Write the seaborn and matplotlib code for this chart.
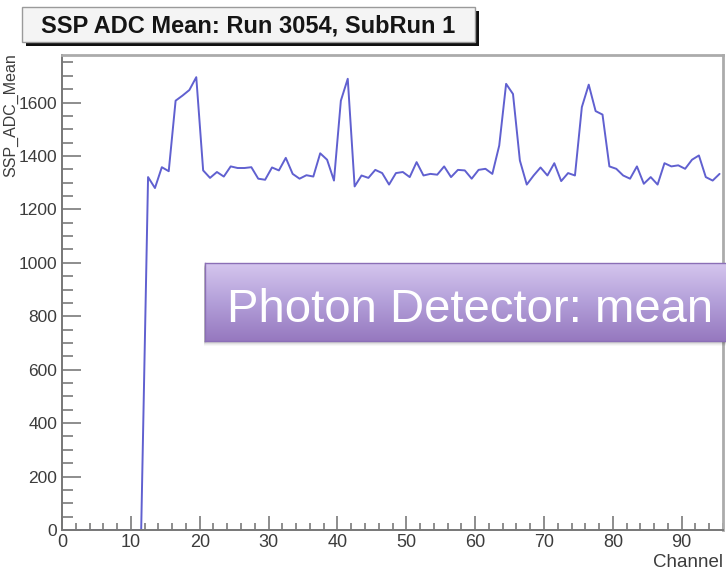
import numpy as np
import pandas as pd
import matplotlib
matplotlib.use("Agg")
import matplotlib.pyplot as plt
from matplotlib.patches import Rectangle
from matplotlib.colors import LinearSegmentedColormap
from matplotlib.ticker import MultipleLocator
import seaborn as sns

# Mean SSP ADC value per channel (channels 0-11 are not instrumented)
channels = np.arange(96)
adc_mean = (
    [0] * 12
    + [1321, 1280, 1358, 1343, 1607, 1626, 1647, 1695]                    # 12-19
    + [1346, 1318, 1340, 1323, 1361, 1355, 1355, 1358, 1315, 1311]        # 20-29
    + [1357, 1346, 1393, 1333, 1315, 1328, 1323, 1410, 1386, 1308]        # 30-39
    + [1607, 1689, 1286, 1327, 1318, 1348, 1336, 1293, 1336, 1340]        # 40-49
    + [1321, 1377, 1327, 1333, 1330, 1361, 1321, 1348, 1346, 1315]        # 50-59
    + [1348, 1352, 1333, 1439, 1670, 1632, 1383, 1293, 1327, 1357]        # 60-69
    + [1327, 1373, 1306, 1336, 1327, 1583, 1667, 1568, 1555, 1361]        # 70-79
    + [1352, 1327, 1315, 1361, 1296, 1321, 1293, 1373, 1361, 1365]        # 80-89
    + [1352, 1386, 1402, 1321, 1308, 1333]                                # 90-95
)

title_text = "SSP ADC Mean: Run 3054, SubRun 1"
x_title = "Channel"
y_title = "SSP_ADC_Mean"
banner_text = "Photon Detector: mean"

sns.set_style("white")
plt.rcParams["font.family"] = ["Liberation Sans", "DejaVu Sans"]

W, H = 726, 574
fig = plt.figure(figsize=(W / 100, H / 100), dpi=100)
fig.patch.set_facecolor("white")


def fx(px):
    return px / W


def fy(py):
    return 1 - py / H


ax = fig.add_axes([fx(62), fy(530), fx(723 - 62), (530 - 55) / H])
ax.set_zorder(0)
ax.set_facecolor("white")

df = pd.DataFrame({"channel": channels + 0.5, "mean": adc_mean})
sns.lineplot(data=df, x="channel", y="mean", ax=ax, color="#6060d0",
             linewidth=1.4, zorder=2)

ax.set_xlim(0, 96)
ax.set_ylim(0, 1778)
ax.xaxis.set_major_locator(MultipleLocator(10))
ax.xaxis.set_minor_locator(MultipleLocator(2))
ax.yaxis.set_major_locator(MultipleLocator(200))
ax.yaxis.set_minor_locator(MultipleLocator(50))

tick_col = "#7a7a7a"
ax.tick_params(which="both", bottom=True, left=True, top=False, right=False)
ax.tick_params(axis="x", which="major", direction="in", length=10, width=1.2,
               color=tick_col, labelsize=13, labelcolor="#3c3c3c", pad=3)
ax.tick_params(axis="x", which="minor", direction="in", length=5, width=1.2,
               color=tick_col)
ax.tick_params(axis="y", which="major", direction="in", length=14, width=1.2,
               color=tick_col, labelsize=12.5, labelcolor="#3c3c3c", pad=3.5)
ax.tick_params(axis="y", which="minor", direction="in", length=8, width=1.2,
               color=tick_col)

for side in ("left", "bottom"):
    ax.spines[side].set_color("#777777")
    ax.spines[side].set_linewidth(1.4)
for side in ("top", "right"):
    ax.spines[side].set_color("#ababab")
    ax.spines[side].set_linewidth(2.0)

ax.set_xlabel(x_title, loc="right", fontsize=13.5, color="#3c3c3c")
ax.xaxis.set_label_coords(1.0, (530 - 554) / 475)
ax.set_ylabel(y_title, loc="top", fontsize=11.5, color="#3c3c3c")
ax.yaxis.set_label_coords((18.3 - 62) / 661, (530 - 53) / 475)

# Title box with a hard black drop shadow
tb_l, tb_t, tb_r, tb_b = 22, 7, 475, 42
fig.patches.append(Rectangle((fx(tb_l + 4), fy(tb_b + 4)), fx(tb_r - tb_l),
                             (tb_b - tb_t) / H, transform=fig.transFigure,
                             facecolor="#111111", edgecolor="none", zorder=3))
fig.patches.append(Rectangle((fx(tb_l), fy(tb_b)), fx(tb_r - tb_l),
                             (tb_b - tb_t) / H, transform=fig.transFigure,
                             facecolor="#f4f4f4", edgecolor="#9a9a9a",
                             linewidth=1.0, zorder=4))
fig.text(fx((tb_l + tb_r) / 2), fy((tb_t + tb_b) / 2 + 1), title_text,
         ha="center", va="center", fontsize=17, fontweight="bold",
         color="#151515", zorder=5)

# Purple banner with soft shadow and vertical gradient
bn_l, bn_t, bn_b = 205, 263, 341
for i, a in enumerate([0.10, 0.08, 0.06, 0.04, 0.03]):
    off = i + 1
    fig.patches.append(Rectangle((fx(bn_l - 1), fy(bn_b + off)), fx(W + 10 - bn_l),
                                 (bn_b - bn_t) / H, transform=fig.transFigure,
                                 facecolor="black", alpha=a, edgecolor="none",
                                 zorder=1))
gax = fig.add_axes([fx(bn_l), fy(bn_b), fx(W + 10 - bn_l), (bn_b - bn_t) / H])
gax.set_zorder(2)
cmap = LinearSegmentedColormap.from_list("banner", ["#d5c6ee", "#b39fd9", "#9678bf"])
gax.imshow(np.linspace(0, 1, 256).reshape(-1, 1), aspect="auto", cmap=cmap,
           extent=[0, 1, 0, 1], origin="upper")
gax.set_xticks([])
gax.set_yticks([])
for sp in gax.spines.values():
    sp.set_color("#8b6fb6")
    sp.set_linewidth(1.0)
gax.text(fx(227 - bn_l) / fx(W + 10 - bn_l), (bn_b - 322) / (bn_b - bn_t),
         banner_text, transform=gax.transAxes, ha="left", va="baseline",
         fontsize=34, color="white")

fig.savefig("out.png", dpi=100)
